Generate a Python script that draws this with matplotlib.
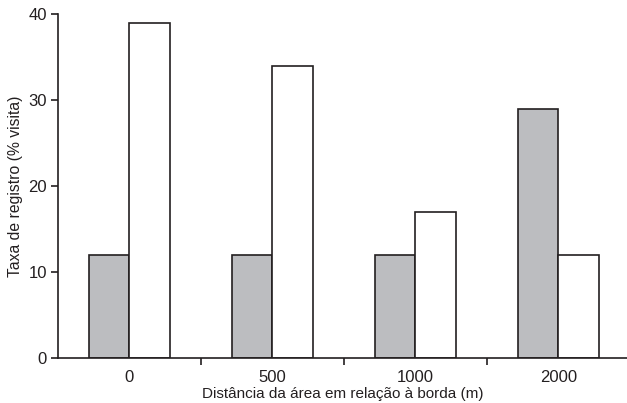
import matplotlib
matplotlib.use("Agg")
import matplotlib.pyplot as plt
import numpy as np

categories = ["0", "500", "1000", "2000"]
gray_values = [12, 12, 12, 29]
white_values = [39, 34, 17, 12]

plt.rcParams['font.family'] = ['Liberation Sans', 'DejaVu Sans']
txt = '#231f20'

fig = plt.figure(figsize=(6.27, 4.03), dpi=100)
ax = fig.add_axes([0.0925, 0.1117, 0.9075, 0.8536])

x = np.arange(len(categories))
w = 0.285
ax.bar(x - w/2, gray_values, width=w, color='#bcbdc0', edgecolor=txt, linewidth=1.2)
ax.bar(x + w/2, white_values, width=w, color='white', edgecolor=txt, linewidth=1.2)

ax.set_xlim(-0.5, 3.48)
ax.set_ylim(0, 40)
ax.set_yticks([0, 10, 20, 30, 40])
ax.set_xticks(x)
ax.set_xticklabels(categories)
ax.set_xticks([0.5, 1.5, 2.5], minor=True)
ax.tick_params(axis='x', which='major', length=0, pad=9, labelsize=12, colors=txt)
ax.tick_params(axis='x', which='minor', length=5, width=1.2, direction='out', color=txt)
ax.tick_params(axis='y', length=5, width=1.2, direction='out', labelsize=12, colors=txt, pad=3)

for s in ['top', 'right']:
    ax.spines[s].set_visible(False)
for s in ['left', 'bottom']:
    ax.spines[s].set_linewidth(1.2)
    ax.spines[s].set_color(txt)

ax.set_xlabel("Distância da área em relação à borda (m)", fontsize=11, color=txt, labelpad=1)
ax.set_ylabel("Taxa de registro (% visita)", fontsize=11.3, color=txt, labelpad=3.5)

fig.savefig("out.png", dpi=100)
